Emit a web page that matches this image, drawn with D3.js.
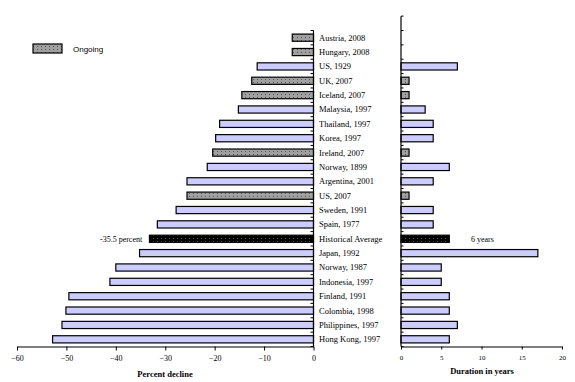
<!DOCTYPE html>
<html>
<head>
<meta charset="utf-8">
<script src="https://cdn.jsdelivr.net/npm/d3@7"></script>
<style>
  body { margin: 0; background: #fff; }
  svg { display: block; }
  text { font-family: "Liberation Serif", "Times New Roman", serif; fill: #000; }
</style>
</head>
<body>
<div id="chart"></div>
<script>
// rows top to bottom
const categories = [
  'Austria, 2008', 'Hungary, 2008', 'US, 1929', 'UK, 2007', 'Iceland, 2007',
  'Malaysia, 1997', 'Thailand, 1997', 'Korea, 1997', 'Ireland, 2007', 'Norway, 1899',
  'Argentina, 2001', 'US, 2007', 'Sweden, 1991', 'Spain, 1977', 'Historical Average',
  'Japan, 1992', 'Norway, 1987', 'Indonesia, 1997', 'Finland, 1991', 'Colombia, 1998',
  'Philippines, 1997', 'Hong Kong, 1997'
];
const decline = [
  -4.3, -4.3, -11.4, -12.5, -14.5, -15.2, -19.0, -19.8, -20.4, -21.5,
  -25.6, -25.6, -27.8, -31.6, -33.2, -35.2, -40.0, -41.2, -49.5, -50.1,
  -50.9, -52.8
];
const duration = [
  null, null, 7, 1, 1, 3, 4, 4, 1, 6,
  4, 1, 4, 4, 6, 17, 5, 5, 6, 6,
  7, 6
];
const ongoing = [
  true, true, false, true, true, false, false, false, true, false,
  false, true, false, false, false, false, false, false, false, false,
  false, false
];
const declineTicks = [-60, -50, -40, -30, -20, -10, 0];
const durationTicks = [0, 5, 10, 15, 20];
const avgDeclineLabel = '-35.5 percent';
const avgDurationLabel = '6 years';

const width = 575, height = 382;
const svg = d3.select('#chart').append('svg')
    .attr('width', width)
    .attr('height', height);

const defs = svg.append('defs');
const dots = defs.append('pattern')
    .attr('id', 'dotsGray')
    .attr('width', 4).attr('height', 3)
    .attr('patternUnits', 'userSpaceOnUse');
dots.append('rect').attr('width', 4).attr('height', 3).attr('fill', '#a0a0a0');
dots.append('rect').attr('x', 1).attr('y', 1).attr('width', 1).attr('height', 1).attr('fill', '#555');

const dotsBlack = defs.append('pattern')
    .attr('id', 'dotsBlack')
    .attr('width', 4).attr('height', 3)
    .attr('patternUnits', 'userSpaceOnUse');
dotsBlack.append('rect').attr('width', 4).attr('height', 3).attr('fill', '#000');
dotsBlack.append('rect').attr('x', 1).attr('y', 1).attr('width', 1).attr('height', 1).attr('fill', '#555');

function fillFor(i) {
    if (categories[i] === 'Historical Average') return 'url(#dotsBlack)';
    return ongoing[i] ? 'url(#dotsGray)' : '#ccccff';
}

const rows = categories.map((c, i) => ({ name: c, decline: decline[i], duration: duration[i], i }));

// left panel
const x = d3.scaleLinear().domain([-60, 0]).range([17, 313.5]);
const y = d3.scaleBand().domain(categories).range([30.5, 346.5]).paddingInner(0.5).paddingOuter(0.25);

const left = svg.append('g');
left.selectAll('rect.bar')
    .data(rows)
    .enter()
    .append('rect')
    .attr('class', 'bar')
    .attr('x', d => x(d.decline))
    .attr('y', d => y(d.name))
    .attr('width', d => x(0) - x(d.decline))
    .attr('height', y.bandwidth())
    .attr('fill', d => fillFor(d.i))
    .attr('stroke', '#000')
    .attr('stroke-width', 1.2);

const xAxis = left.append('g')
    .attr('transform', 'translate(0,346.5)')
    .call(d3.axisBottom(x).tickValues(declineTicks).tickSize(4).tickFormat(d3.format('d')).tickSizeOuter(0));
xAxis.select('.domain').attr('stroke-width', 1.2);
xAxis.selectAll('text').attr('font-size', 8).attr('font-family', 'Liberation Serif').attr('dy', '0.9em');

// category boundary ticks on the zero line
const step = y.step();
const yBounds = d3.range(categories.length + 1).map(k => y.range()[0] + k * step);
left.append('line')
    .attr('x1', x(0)).attr('x2', x(0))
    .attr('y1', y.range()[0]).attr('y2', 346.5)
    .attr('stroke', '#000').attr('stroke-width', 1.2);
left.selectAll('line.ytick')
    .data(yBounds)
    .enter()
    .append('line')
    .attr('class', 'ytick')
    .attr('x1', x(0) - 3).attr('x2', x(0))
    .attr('y1', d => d).attr('y2', d => d)
    .attr('stroke', '#000');

left.selectAll('text.cat')
    .data(rows)
    .enter()
    .append('text')
    .attr('class', 'cat')
    .attr('x', 319)
    .attr('y', d => y(d.name) + y.bandwidth() / 2)
    .attr('dy', '0.35em')
    .attr('font-size', 8.5)
    .text(d => d.name);

left.append('text')
    .attr('x', x(-35.5) - 17)
    .attr('y', y('Historical Average') + y.bandwidth() / 2)
    .attr('dy', '0.35em')
    .attr('text-anchor', 'middle')
    .attr('font-size', 8)
    .text(avgDeclineLabel);

left.append('text')
    .attr('x', 165)
    .attr('y', 374)
    .attr('dy', '0.35em')
    .attr('text-anchor', 'middle')
    .attr('font-size', 8.5)
    .attr('font-weight', 'bold')
    .text('Percent decline');

// legend
svg.append('rect')
    .attr('x', 33).attr('y', 44).attr('width', 29).attr('height', 9)
    .attr('fill', 'url(#dotsGray)').attr('stroke', '#000').attr('stroke-width', 1.2);
svg.append('text')
    .attr('x', 73).attr('y', 49.5).attr('dy', '0.35em')
    .attr('font-size', 8)
    .style('font-family', '"Liberation Sans", Arial, sans-serif')
    .text('Ongoing');

// right panel
const x2 = d3.scaleLinear().domain([0, 20]).range([401, 562]);
const y2 = d3.scaleBand().domain([' '].concat(categories))
    .range([y.range()[0] - step, 346.5]).paddingInner(0.5).paddingOuter(0.25);

const right = svg.append('g');
right.selectAll('rect.bar')
    .data(rows.filter(d => d.duration != null))
    .enter()
    .append('rect')
    .attr('class', 'bar')
    .attr('x', x2(0))
    .attr('y', d => y(d.name))
    .attr('width', d => x2(d.duration) - x2(0))
    .attr('height', y.bandwidth())
    .attr('fill', d => fillFor(d.i))
    .attr('stroke', '#000')
    .attr('stroke-width', 1.2);

const x2Axis = right.append('g')
    .attr('transform', 'translate(0,346.5)')
    .call(d3.axisBottom(x2).tickValues(durationTicks).tickSize(3).tickSizeOuter(0));
x2Axis.select('.domain').attr('stroke-width', 1.2);
x2Axis.selectAll('text').attr('font-size', 7).attr('font-family', 'Liberation Serif').attr('dy', '1em');

const y2Bounds = d3.range(categories.length + 2).map(k => y2.range()[0] + k * step);
right.append('line')
    .attr('x1', x2(0)).attr('x2', x2(0))
    .attr('y1', y2.range()[0]).attr('y2', 346.5)
    .attr('stroke', '#000').attr('stroke-width', 1.2);
right.selectAll('line.ytick')
    .data(y2Bounds)
    .enter()
    .append('line')
    .attr('class', 'ytick')
    .attr('x1', x2(0)).attr('x2', x2(0) + 2.5)
    .attr('y1', d => d).attr('y2', d => d)
    .attr('stroke', '#000');

right.append('text')
    .attr('x', 471)
    .attr('y', y('Historical Average') + y.bandwidth() / 2)
    .attr('dy', '0.35em')
    .attr('font-size', 8)
    .text(avgDurationLabel);

right.append('text')
    .attr('x', 482)
    .attr('y', 371.5)
    .attr('dy', '0.35em')
    .attr('text-anchor', 'middle')
    .attr('font-size', 8.5)
    .attr('font-weight', 'bold')
    .text('Duration in years');
</script>
</body>
</html>
